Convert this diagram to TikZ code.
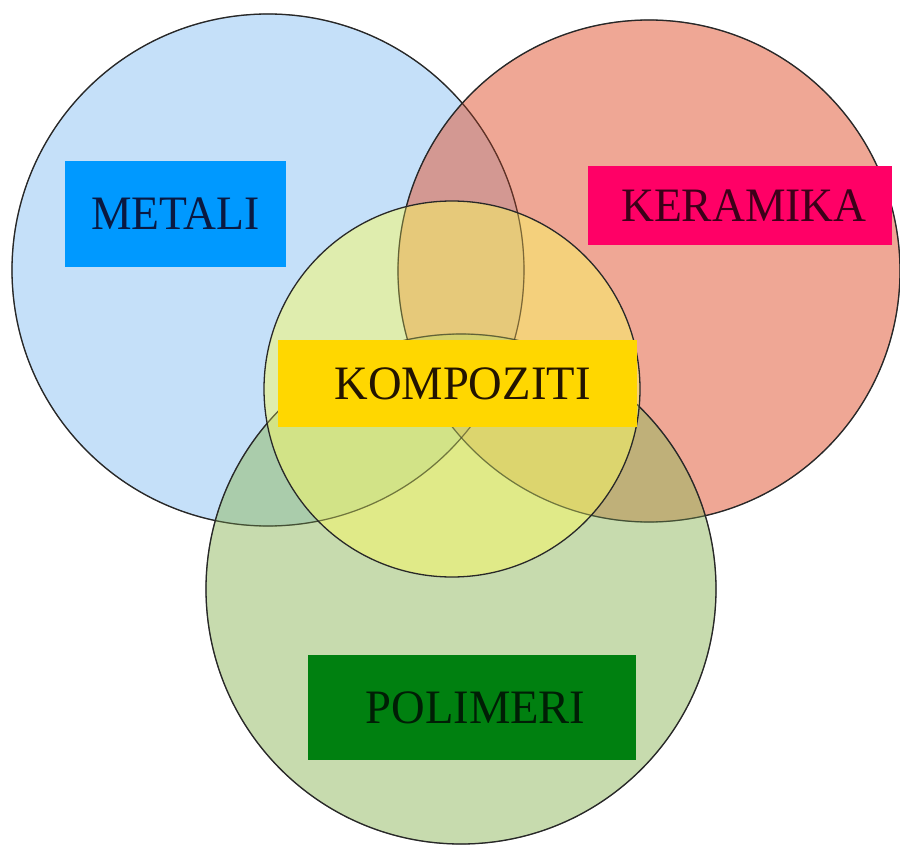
\documentclass[tikz,border=0pt]{standalone}
\usepackage{fontspec}
\setmainfont{Liberation Serif}
\definecolor{cblue}{RGB}{141,195,245}
\definecolor{cred}{RGB}{225,81,45}
\definecolor{cgreen}{RGB}{145,185,95}
\definecolor{cyellow}{RGB}{250,250,100}
\definecolor{lblue}{RGB}{0,153,255}
\definecolor{lred}{RGB}{255,0,102}
\definecolor{lyellow}{RGB}{255,215,0}
\definecolor{lgreen}{RGB}{0,128,16}
\definecolor{edge}{RGB}{40,40,40}
\definecolor{tblue}{RGB}{10,25,65}
\definecolor{tred}{RGB}{60,0,25}
\definecolor{tyellow}{RGB}{35,20,0}
\definecolor{tgreen}{RGB}{0,30,5}
\begin{document}
\begin{tikzpicture}[x=1pt,y=-1pt,
  set/.style={circle,draw=edge,line width=1.3pt,fill opacity=0.5,inner sep=0pt},
  rim/.style={draw=edge,line width=1.1pt,draw opacity=0.45},
  tag/.style={rectangle,inner sep=0pt,font=\fontsize{48}{48}\selectfont}]
\useasboundingbox[fill=white] (0,0) rectangle (900,845);
\node[set,fill=cblue,minimum size=512pt] (metal) at (268,270) {};
\node[set,fill=cred,minimum size=502pt] (ceram) at (649,271) {};
\node[set,fill=cgreen,minimum size=510pt] (poly) at (461,589) {};
\node[set,fill=cyellow,minimum size=376pt] (comp) at (452,389) {};
\draw[rim] (metal.center) circle[radius=256];
\draw[rim] (ceram.center) circle[radius=251];
\draw[rim] (poly.center) circle[radius=255];
\node[tag,fill=lblue,minimum width=221pt,minimum height=106pt,text=tblue] (tm) at (175.5,214) {\raisebox{-6pt}{\scalebox{0.95}[1]{METALI}}};
\node[tag,fill=lred,minimum width=304pt,minimum height=79pt,text=tred] (tk) at (740,205.5) {\hspace*{8pt}\raisebox{-6pt}{\scalebox{0.95}[1]{KERAMIKA}}};
\node[tag,fill=lyellow,minimum width=359pt,minimum height=87pt,text=tyellow] (tc) at (457.5,383.5) {\hspace*{10pt}\raisebox{-4pt}{\scalebox{0.97}[1]{KOMPOZITI}}};
\node[tag,fill=lgreen,minimum width=328pt,minimum height=105pt,text=tgreen] (tp) at (472,707.5) {\hspace*{7pt}\raisebox{-6pt}{\scalebox{0.97}[1]{POLIMERI}}};
\end{tikzpicture}
\end{document}
